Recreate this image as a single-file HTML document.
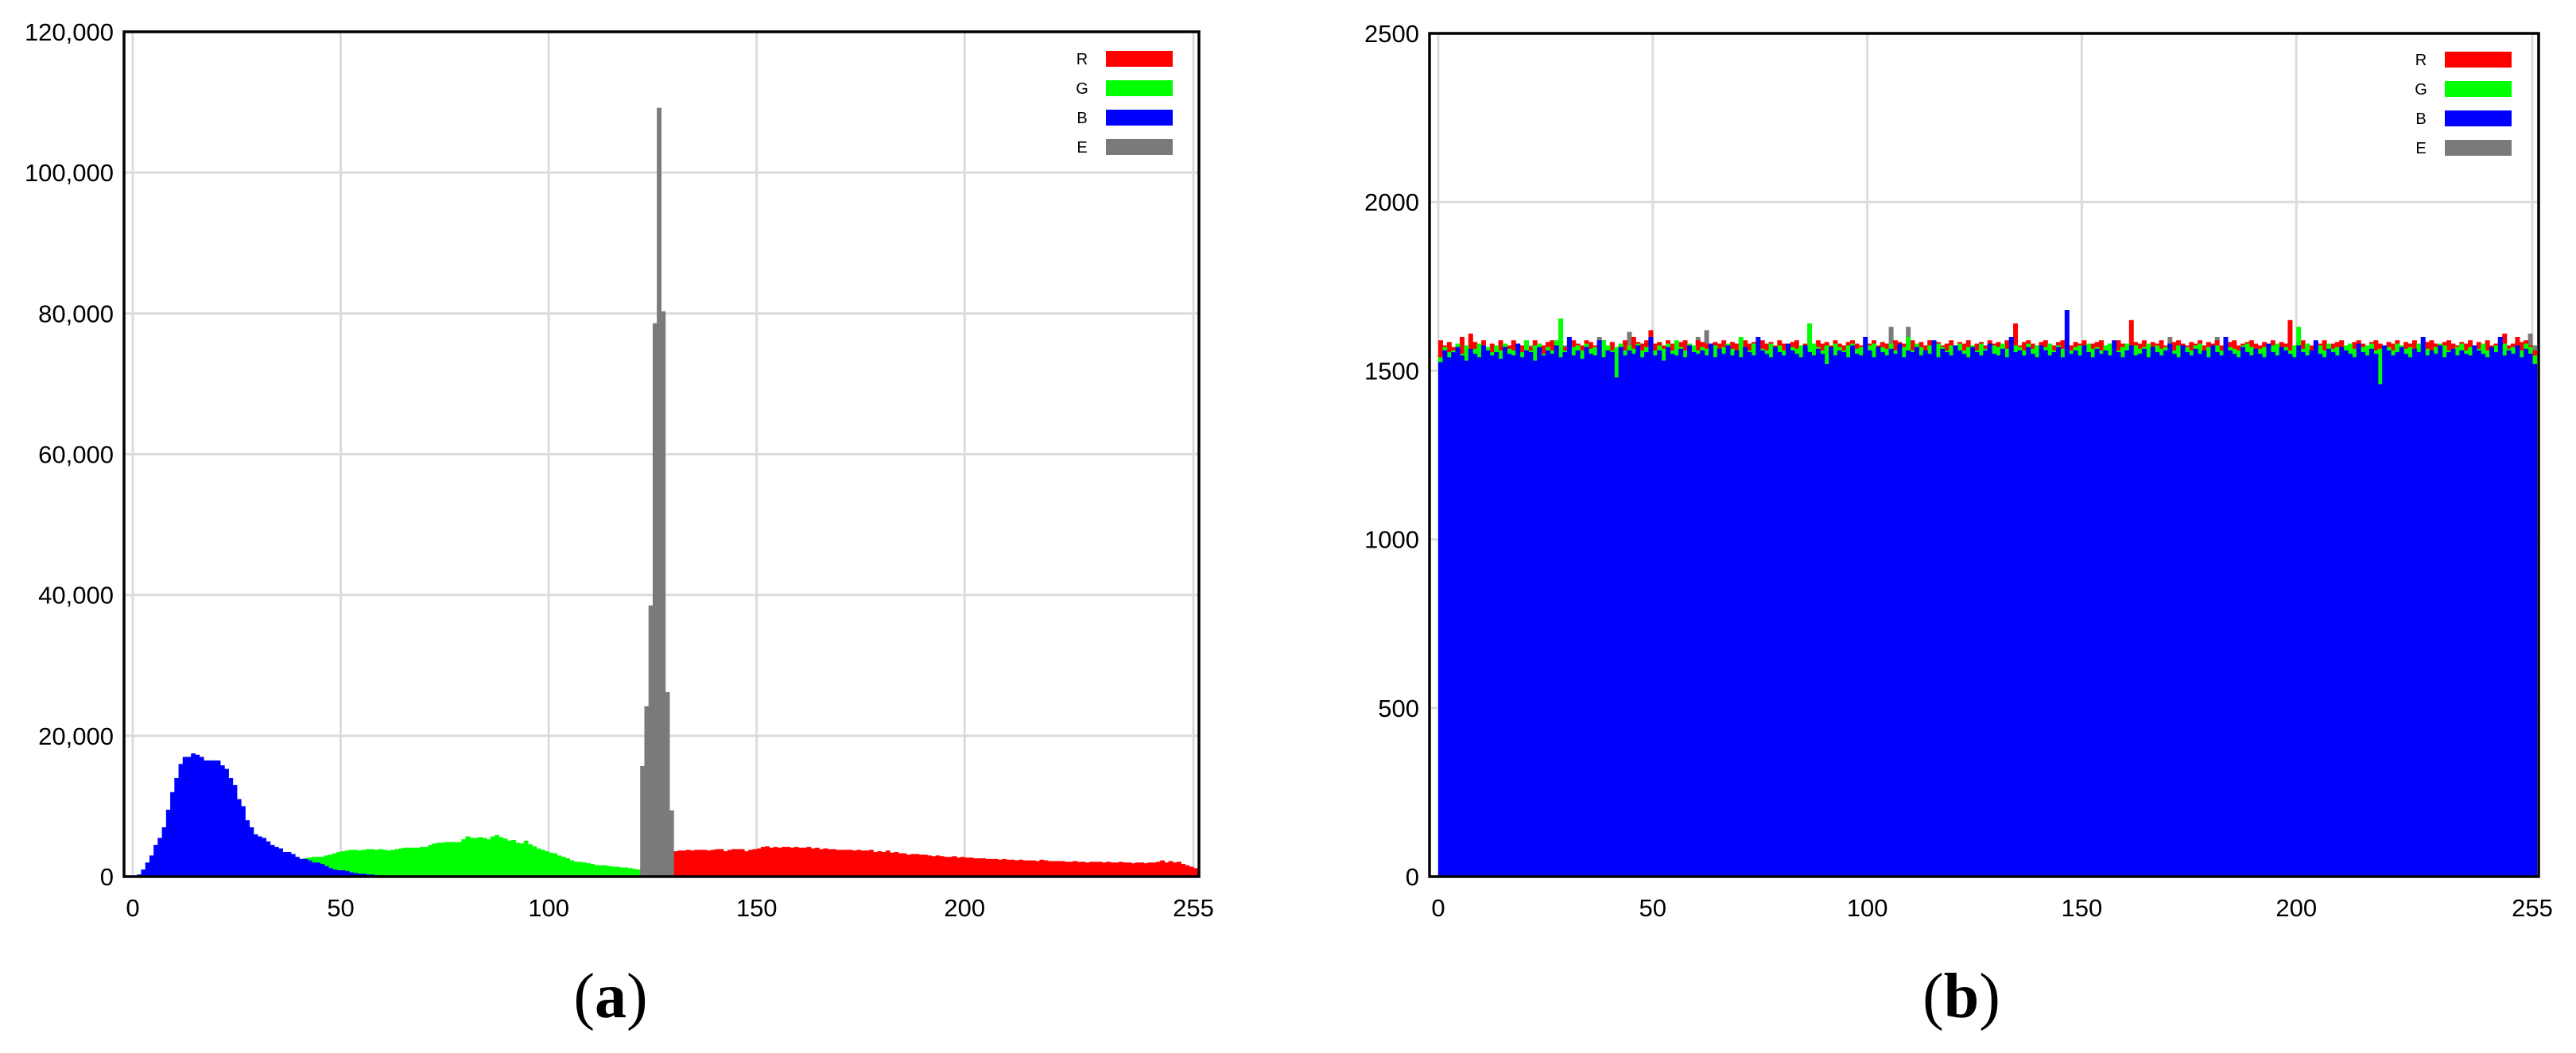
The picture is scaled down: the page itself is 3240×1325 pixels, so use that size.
<!DOCTYPE html>
<html><head><meta charset="utf-8"><style>
html,body{margin:0;padding:0;background:#fff;}
svg{display:block;}
text{font-family:"Liberation Sans",sans-serif;fill:#000;}
</style></head><body>
<svg id="fig" width="3240" height="1325" viewBox="0 0 3240 1325">
<g id="chartA"></g>
<g id="chartB"></g>
<text x="768" y="1280" text-anchor="middle" font-size="80" style="font-family:'Liberation Serif',serif">(<tspan font-weight="bold">a</tspan>)</text>
<text x="2467" y="1280" text-anchor="middle" font-size="80" style="font-family:'Liberation Serif',serif">(<tspan font-weight="bold">b</tspan>)</text>
</svg>
<script>
// ---- Chart A data (values in thousands) ----
const aXTicks = [0, 50, 100, 150, 200, 255];
const aYTicks = [0, 20, 40, 60, 80, 100, 120];
const aYTickLabels = ["0", "20,000", "40,000", "60,000", "80,000", "100,000", "120,000"];
const aBlue = [
0,0.3,1,2,3,4.5,5.5,7,9.5,12,14,16,17,17,17.5,17.3,
17,16.5,16.5,16.5,16.5,15.8,15.3,14,13,11,10,8,7,6,5.7,5.5,
5,4.5,4.2,4,3.5,3.5,3.2,2.8,2.5,2.5,2.3,2,2,1.8,1.5,1.2,
1,0.9,0.9,0.8,0.6,0.5,0.4,0.4,0.3,0.3,0.2,0.2,0.1,0.1,0.1,0.1
].concat(Array(192).fill(0));
const aGreen = [
0,0,0,0.1,0.1,0.2,0.2,0.3,0.3,0.4,0.5,0.5,0.6,0.7,0.8,0.9,
1,1,1.1,1.2,1.2,1.3,1.4,1.5,1.5,1.6,1.7,1.8,1.9,2,2,2.1,
2.1,2.2,2.2,2.3,2.3,2.4,2.4,2.5,2.5,2.6,2.7,2.8,2.8,2.8,3,3.1,
3.3,3.5,3.6,3.7,3.8,3.8,3.7,3.8,3.9,3.9,3.8,3.9,3.8,3.7,3.8,3.9,
4,4.1,4.1,4.1,4.1,4.2,4.2,4.5,4.7,4.8,4.8,4.9,4.9,4.9,4.9,5.3,
5.7,5.5,5.5,5.6,5.5,5.3,5.7,5.9,5.6,5.4,5.1,5.2,4.8,4.7,5.1,4.6,
4.3,4,3.8,3.6,3.4,3.3,3,2.8,2.6,2.3,2.1,2.1,2,1.9,1.8,1.6,
1.6,1.6,1.5,1.4,1.4,1.3,1.3,1.2,1.1,1,1.2,1,1,1,1,1,
1,1,1.1,1.1,1,0.9,0.8,0.7,0.6,0.6,0.5,0.5,0.5,0.4,0.4,0.3,
0.3,0.3,0.3,0.3,0.3,0.3,0.3,0.3,0.3,0.3,0.2,0.2,0.2,0.2,0.2,0.2
].concat(Array(96).fill(0.1));
const aRed = Array(127).fill(0).concat([
1.5,2,3.2,3.6,3.7,3.7,3.8,3.7,3.8,3.8,3.8,3.7,3.8,3.9,3.9,3.6,
3.8,3.9,3.9,3.9,3.6,3.8,3.9,4,4.2,4.3,4.1,4.2,4.1,4.2,4.2,4.1,
4.2,4.1,4.1,4.2,4,4.1,3.9,4,3.9,3.9,3.8,3.8,3.8,3.8,3.7,3.8,
3.7,3.7,3.8,3.5,3.6,3.5,3.7,3.4,3.5,3.3,3.3,3.1,3.2,3.2,3.1,3.1,
3,2.9,3,2.9,2.8,2.8,2.9,2.7,2.8,2.7,2.7,2.6,2.6,2.6,2.5,2.5,
2.5,2.4,2.5,2.4,2.4,2.3,2.4,2.3,2.3,2.3,2.2,2.4,2.3,2.2,2.2,2.2,
2.2,2.1,2.1,2.2,2.1,2.1,2,2.1,2.1,2.1,2,2.1,2,2,2.1,2,
2,1.9,2,2,1.9,2,2,2.1,2.3,2,2.2,2,2.1,1.8,1.6,1.4,1.2
]);
const aGray = Array(122).fill(0).concat([15.7,24.2,38.5,78.6,109.2,80.3,26.2,9.4]).concat(Array(126).fill(0));

// ---- Chart B data ----
const bXTicks = [0, 50, 100, 150, 200, 255];
const bYTicks = [0, 500, 1000, 1500, 2000, 2500];
const bBlue = [
1525,1560,1540,1555,1570,1545,1530,1565,1550,1540,1575,1560,1545,1555,1535,1570,
1550,1545,1580,1540,1560,1555,1530,1570,1545,1560,1550,1575,1540,1555,1600,1545,
1560,1535,1570,1550,1545,1590,1540,1560,1555,1480,1570,1545,1560,1550,1575,1540,
1555,1600,1545,1560,1530,1570,1550,1545,1565,1540,1575,1555,1550,1560,1545,1580,
1540,1565,1550,1575,1545,1560,1540,1570,1555,1545,1600,1560,1550,1540,1570,1555,
1545,1580,1560,1550,1540,1575,1555,1545,1565,1550,1520,1570,1545,1560,1555,1540,
1575,1550,1545,1600,1560,1540,1570,1555,1545,1565,1550,1580,1540,1560,1555,1570,
1545,1560,1550,1590,1540,1565,1555,1545,1575,1560,1550,1540,1570,1555,1545,1560,
1580,1550,1545,1565,1540,1600,1555,1560,1545,1570,1550,1540,1575,1560,1545,1555,
1570,1540,1680,1550,1560,1545,1575,1555,1540,1565,1550,1560,1545,1590,1555,1540,
1560,1575,1545,1550,1565,1540,1570,1555,1545,1560,1580,1550,1540,1575,1555,1545,
1565,1550,1560,1540,1575,1555,1545,1600,1560,1550,1540,1570,1555,1545,1565,1550,
1540,1580,1555,1545,1570,1560,1550,1540,1575,1555,1545,1560,1590,1550,1540,1565,
1555,1545,1570,1560,1550,1540,1580,1555,1545,1565,1550,1460,1575,1560,1545,1555,
1570,1550,1540,1565,1555,1600,1545,1560,1550,1575,1540,1555,1565,1545,1560,1550,
1545,1575,1560,1550,1540,1570,1555,1600,1545,1560,1550,1575,1540,1565,1550,1520
];
const bGreen = [
1540,1570,1555,1560,1580,1550,1575,1560,1565,1580,1560,1570,1555,1575,1560,1580,
1565,1560,1570,1555,1590,1560,1575,1580,1550,1570,1560,1590,1655,1560,1580,1570,
1575,1560,1580,1565,1570,1560,1590,1575,1560,1570,1580,1560,1575,1565,1580,1560,
1570,1580,1560,1575,1565,1580,1560,1590,1570,1560,1580,1575,1560,1570,1565,1580,
1575,1560,1570,1580,1565,1560,1600,1570,1560,1580,1575,1565,1560,1580,1570,1575,
1560,1580,1570,1565,1575,1560,1640,1580,1570,1560,1575,1565,1580,1570,1560,1575,
1580,1565,1570,1560,1575,1580,1560,1570,1565,1580,1560,1575,1570,1600,1560,1580,
1570,1560,1575,1565,1580,1570,1560,1575,1565,1580,1560,1570,1575,1560,1580,1565,
1560,1575,1570,1580,1565,1560,1575,1570,1560,1580,1565,1575,1560,1570,1580,1560,
1575,1565,1580,1560,1570,1575,1560,1580,1565,1570,1560,1575,1580,1565,1560,1570,
1580,1560,1575,1565,1570,1580,1560,1575,1565,1570,1580,1560,1575,1565,1570,1560,
1575,1580,1560,1570,1565,1575,1560,1580,1570,1565,1560,1575,1580,1570,1560,1565,
1570,1560,1575,1580,1565,1570,1560,1575,1630,1565,1580,1560,1570,1575,1560,1580,
1565,1570,1560,1575,1580,1565,1560,1570,1575,1580,1560,1565,1575,1570,1560,1580,
1575,1565,1570,1560,1580,1575,1565,1560,1570,1580,1575,1560,1565,1570,1580,1560,
1570,1575,1565,1580,1560,1570,1575,1560,1580,1565,1570,1575,1560,1580,1570,1545
];
const bRed = [
1590,1575,1585,1570,1580,1600,1575,1610,1585,1575,1590,1570,1580,1575,1590,1580,
1575,1590,1580,1575,1585,1570,1590,1580,1575,1585,1590,1575,1580,1570,1585,1590,
1580,1575,1590,1585,1575,1580,1590,1575,1585,1570,1580,1590,1575,1600,1585,1580,
1590,1620,1580,1585,1575,1590,1580,1575,1585,1590,1580,1575,1590,1585,1580,1575,
1585,1580,1590,1575,1585,1580,1575,1590,1580,1585,1575,1590,1580,1585,1575,1590,
1580,1575,1585,1590,1575,1580,1585,1575,1590,1580,1585,1575,1590,1580,1575,1585,
1590,1580,1575,1585,1580,1590,1575,1585,1580,1575,1590,1585,1580,1575,1590,1580,
1585,1575,1590,1580,1585,1575,1580,1590,1575,1585,1580,1590,1575,1580,1585,1575,
1590,1580,1585,1575,1590,1580,1640,1575,1585,1590,1580,1575,1585,1590,1580,1575,
1585,1590,1580,1575,1585,1580,1590,1575,1580,1585,1590,1575,1580,1585,1590,1580,
1575,1650,1585,1580,1590,1575,1585,1580,1590,1575,1580,1585,1590,1580,1575,1585,
1580,1590,1575,1585,1580,1590,1575,1580,1585,1590,1575,1580,1585,1590,1580,1575,
1585,1580,1590,1575,1585,1580,1650,1575,1585,1590,1580,1575,1585,1580,1590,1575,
1580,1585,1590,1575,1580,1585,1590,1580,1575,1585,1590,1580,1575,1585,1580,1590,
1575,1585,1580,1590,1575,1580,1585,1590,1580,1575,1585,1590,1580,1575,1585,1580,
1590,1575,1585,1580,1590,1575,1580,1585,1610,1575,1580,1600,1585,1590,1575,1560
];
const bGray = [
1570,1560,1575,1565,1570,1560,1575,1565,1570,1560,1575,1565,1570,1560,1575,1565,
1560,1575,1570,1565,1560,1575,1570,1565,1560,1575,1570,1565,1560,1575,1570,1565,
1575,1565,1560,1570,1575,1600,1560,1570,1575,1565,1560,1570,1615,1565,1560,1570,
1565,1570,1575,1560,1565,1570,1575,1560,1565,1570,1575,1560,1600,1570,1620,1560,
1570,1575,1560,1565,1570,1575,1560,1565,1570,1575,1560,1565,1570,1575,1560,1565,
1560,1565,1575,1570,1560,1565,1575,1570,1560,1565,1575,1570,1560,1565,1575,1570,
1575,1570,1565,1560,1575,1570,1565,1560,1575,1630,1565,1560,1575,1630,1565,1560,
1565,1560,1570,1575,1565,1560,1570,1575,1565,1560,1570,1575,1565,1560,1570,1575,
1570,1565,1560,1575,1570,1565,1560,1575,1570,1565,1560,1575,1570,1565,1560,1575,
1560,1570,1565,1575,1560,1570,1565,1575,1560,1570,1565,1575,1560,1570,1565,1575,
1575,1560,1570,1565,1575,1560,1570,1565,1575,1560,1600,1565,1575,1560,1570,1565,
1565,1575,1560,1570,1565,1600,1560,1570,1565,1575,1560,1570,1565,1575,1560,1570,
1570,1560,1575,1565,1570,1560,1575,1565,1570,1560,1575,1565,1570,1560,1575,1565,
1560,1575,1570,1565,1560,1575,1570,1565,1560,1575,1570,1565,1560,1575,1570,1565,
1575,1565,1560,1570,1575,1565,1560,1570,1575,1565,1560,1570,1575,1565,1560,1570,
1565,1570,1575,1560,1565,1570,1575,1600,1565,1570,1575,1560,1565,1570,1610,1575
];

const NS = "http://www.w3.org/2000/svg";
function mk(tag, attrs, parent) {
  const e = document.createElementNS(NS, tag);
  for (const k in attrs) e.setAttribute(k, attrs[k]);
  parent.appendChild(e);
  return e;
}

function drawChart(g, cfg) {
  const xS = v => cfg.x0 + (v / 255) * (cfg.x255 - cfg.x0);
  const yS = v => cfg.yBottom - (v / cfg.yMax) * (cfg.yBottom - cfg.yTop);
  const bw = (cfg.x255 - cfg.x0) / 255;
  cfg.xTicks.forEach(t => {
    const l = mk("line", {x1: xS(t), x2: xS(t), y1: cfg.top, y2: cfg.yBottom, stroke: "#dcdcdc", "stroke-width": 3}, g);
    
    
  });
  cfg.yTicks.forEach(t => {
    const l = mk("line", {x1: cfg.left, x2: cfg.right, y1: yS(t), y2: yS(t), stroke: "#dcdcdc", "stroke-width": 3}, g);
    
    
  });
  cfg.series.forEach(s => {
    const sg = mk("g", {}, g);
    
    
    s.values.forEach((v, i) => {
      if (!v) return;
      const y = yS(v);
      const r = mk("rect", {x: xS(i), y: y, width: bw + 0.6, height: cfg.yBottom - y, fill: s.color}, sg);
      
      
    });
  });
  const fr = mk("rect", {x: cfg.left, y: cfg.top, width: cfg.right - cfg.left, height: cfg.yBottom - cfg.top, fill: "none", stroke: "#000", "stroke-width": 3.5}, g);
  
  
  cfg.yTicks.forEach((t, i) => {
    const tx = mk("text", {x: cfg.left - 13, y: yS(t) + 11, "text-anchor": "end", "font-size": 31}, g);
    tx.textContent = cfg.yLabels[i];
    
    
  });
  cfg.xTicks.forEach(t => {
    const tx = mk("text", {x: xS(t), y: 1153, "text-anchor": "middle", "font-size": 31}, g);
    tx.textContent = String(t);
    
    
  });
  const lg = mk("g", {}, g);
  
  
  cfg.legend.forEach((s, i) => {
    const yy = cfg.legY + i * 37;
    const sw = mk("rect", {x: cfg.legX, y: yy, width: 84, height: 20, fill: s.color}, lg);
    
    
    const tx = mk("text", {x: cfg.legX - 30, y: yy + 17, "text-anchor": "middle", "font-size": 20}, lg);
    tx.textContent = s.label;
    
    
  });
}

const legendItems = [{label: "R", color: "#ff0000"}, {label: "G", color: "#00ff00"}, {label: "B", color: "#0000ff"}, {label: "E", color: "#7a7a7a"}];

drawChart(document.getElementById("chartA"), {
  left: 156, right: 1508, top: 40, yBottom: 1103, yTop: 40,
  x0: 167, x255: 1501, yMax: 120,
  xTicks: aXTicks, yTicks: aYTicks, yLabels: aYTickLabels,
  series: [
    {name: "green", color: "#00ff00", values: aGreen},
    {name: "blue", color: "#0000ff", values: aBlue},
    {name: "red", color: "#ff0000", values: aRed},
    {name: "gray", color: "#7a7a7a", values: aGray}
  ],
  legend: legendItems, legX: 1391, legY: 64
});

drawChart(document.getElementById("chartB"), {
  left: 1798, right: 3193, top: 42, yBottom: 1103, yTop: 42,
  x0: 1809, x255: 3185, yMax: 2500,
  xTicks: bXTicks, yTicks: bYTicks, yLabels: bYTicks.map(String),
  series: [
    {name: "gray", color: "#7a7a7a", values: bGray},
    {name: "red", color: "#ff0000", values: bRed},
    {name: "green", color: "#00ff00", values: bGreen},
    {name: "blue", color: "#0000ff", values: bBlue}
  ],
  legend: legendItems, legX: 3075, legY: 65
});
</script>
</body></html>
